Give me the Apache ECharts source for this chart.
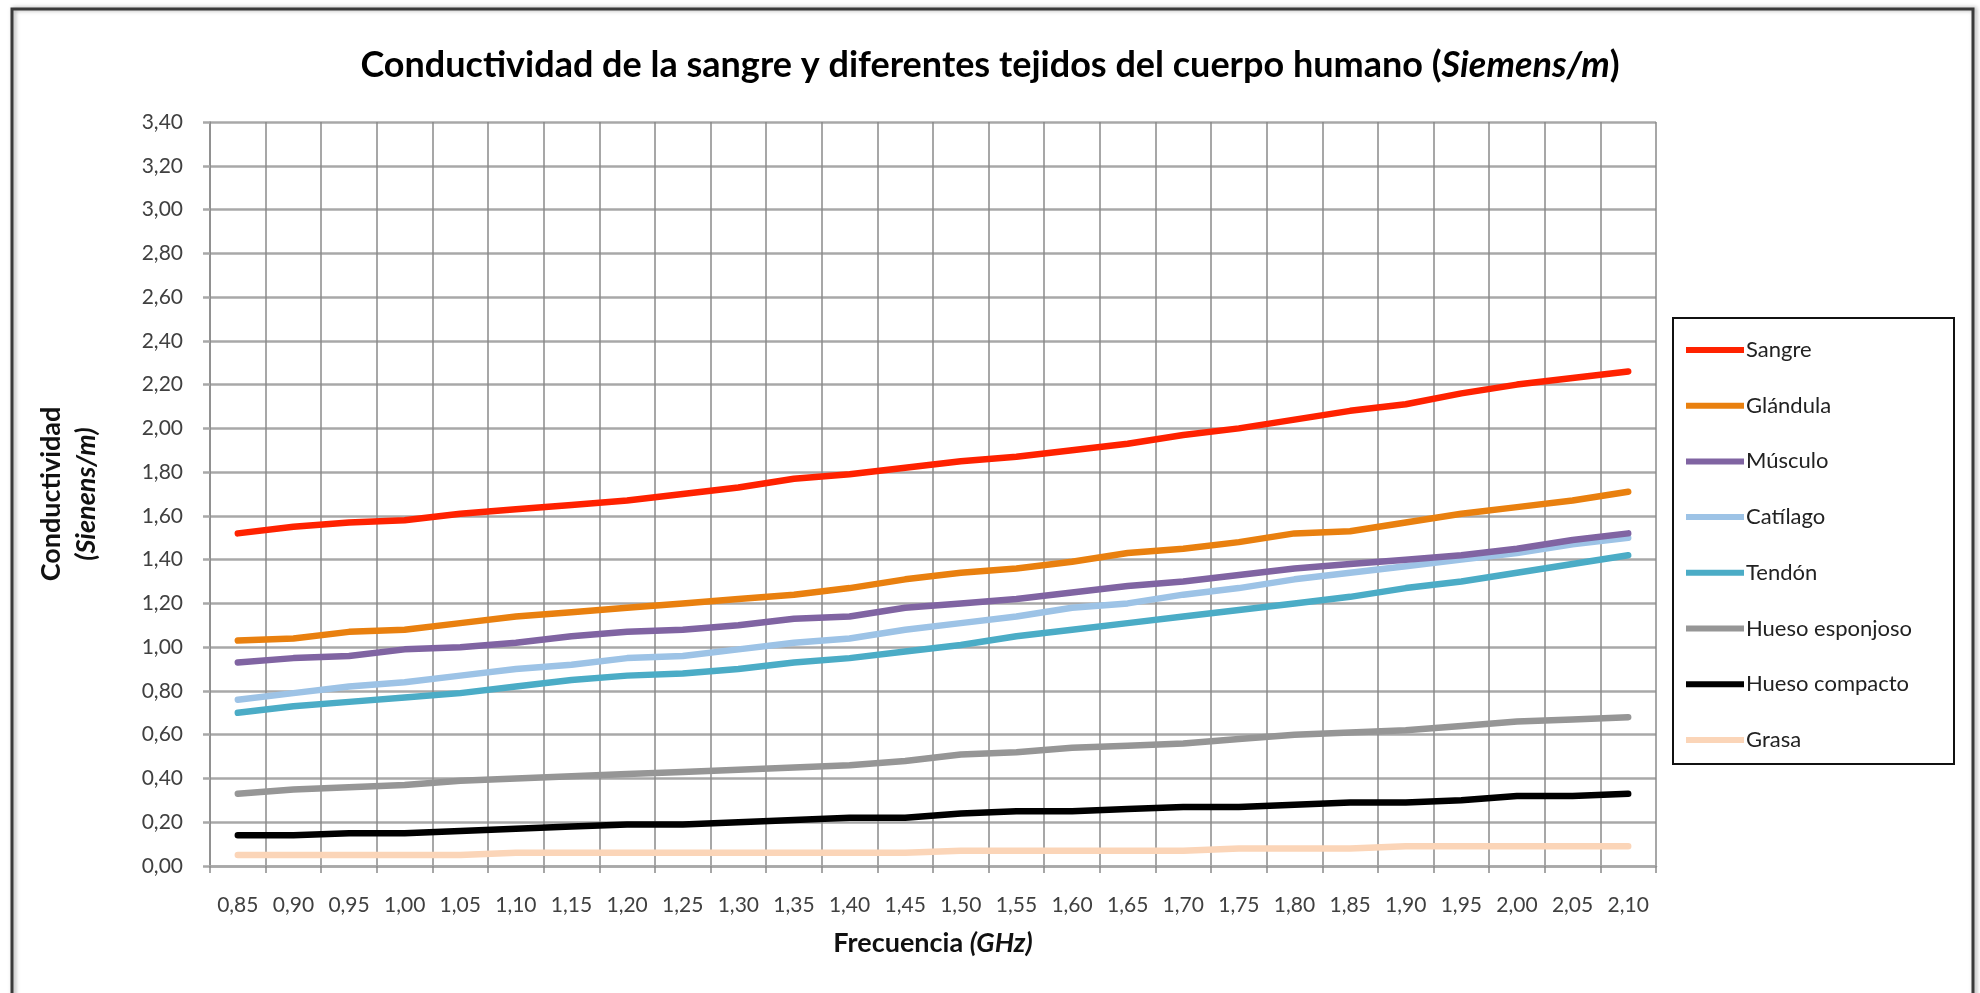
<!DOCTYPE html>
<html>
<head>
<meta charset="utf-8">
<script src="https://cdn.jsdelivr.net/npm/echarts@6/dist/echarts.min.js"></script>
<style>
  html, body { margin: 0; padding: 0; background: #fff; }
  #chart { width: 1980px; height: 993px; }
</style>
</head>
<body>
<div id="chart"></div>
<script>
var frecuencias = ['0,85', '0,90', '0,95', '1,00', '1,05', '1,10', '1,15', '1,20', '1,25', '1,30', '1,35', '1,40', '1,45',
                   '1,50', '1,55', '1,60', '1,65', '1,70', '1,75', '1,80', '1,85', '1,90', '1,95', '2,00', '2,05', '2,10'];

var sangre = [1.52, 1.55, 1.57, 1.58, 1.61, 1.63, 1.65, 1.67, 1.70, 1.73, 1.77, 1.79, 1.82,
              1.85, 1.87, 1.90, 1.93, 1.97, 2.00, 2.04, 2.08, 2.11, 2.16, 2.20, 2.23, 2.26];
var glandula = [1.03, 1.04, 1.07, 1.08, 1.11, 1.14, 1.16, 1.18, 1.20, 1.22, 1.24, 1.27, 1.31,
                1.34, 1.36, 1.39, 1.43, 1.45, 1.48, 1.52, 1.53, 1.57, 1.61, 1.64, 1.67, 1.71];
var musculo = [0.93, 0.95, 0.96, 0.99, 1.00, 1.02, 1.05, 1.07, 1.08, 1.10, 1.13, 1.14, 1.18,
               1.20, 1.22, 1.25, 1.28, 1.30, 1.33, 1.36, 1.38, 1.40, 1.42, 1.45, 1.49, 1.52];
var cartilago = [0.76, 0.79, 0.82, 0.84, 0.87, 0.90, 0.92, 0.95, 0.96, 0.99, 1.02, 1.04, 1.08,
                 1.11, 1.14, 1.18, 1.20, 1.24, 1.27, 1.31, 1.34, 1.37, 1.40, 1.43, 1.47, 1.50];
var tendon = [0.70, 0.73, 0.75, 0.77, 0.79, 0.82, 0.85, 0.87, 0.88, 0.90, 0.93, 0.95, 0.98,
              1.01, 1.05, 1.08, 1.11, 1.14, 1.17, 1.20, 1.23, 1.27, 1.30, 1.34, 1.38, 1.42];
var huesoEsponjoso = [0.33, 0.35, 0.36, 0.37, 0.39, 0.40, 0.41, 0.42, 0.43, 0.44, 0.45, 0.46, 0.48,
                      0.51, 0.52, 0.54, 0.55, 0.56, 0.58, 0.60, 0.61, 0.62, 0.64, 0.66, 0.67, 0.68];
var huesoCompacto = [0.14, 0.14, 0.15, 0.15, 0.16, 0.17, 0.18, 0.19, 0.19, 0.20, 0.21, 0.22, 0.22,
                     0.24, 0.25, 0.25, 0.26, 0.27, 0.27, 0.28, 0.29, 0.29, 0.30, 0.32, 0.32, 0.33];
var grasa = [0.05, 0.05, 0.05, 0.05, 0.05, 0.06, 0.06, 0.06, 0.06, 0.06, 0.06, 0.06, 0.06,
             0.07, 0.07, 0.07, 0.07, 0.07, 0.08, 0.08, 0.08, 0.09, 0.09, 0.09, 0.09, 0.09];

var nombres = ['Sangre', 'Glándula', 'Músculo', 'Catílago', 'Tendón', 'Hueso esponjoso', 'Hueso compacto', 'Grasa'];
var colores = ['#ff2200', '#e9800f', '#8064a2', '#9dc3e6', '#4bacc6', '#969696', '#000000', '#fbd5b8'];
var valores = [sangre, glandula, musculo, cartilago, tendon, huesoEsponjoso, huesoCompacto, grasa];

var fuente = 'Lato';

function serie(i) {
    return {
        name: nombres[i],
        type: 'line',
        data: valores[i],
        showSymbol: false,
        symbol: 'none',
        color: colores[i],
        z: 10 - i,
        lineStyle: { width: 6.5, color: colores[i], cap: 'round', join: 'round' }
    };
}

var series = [];
for (var i = 0; i < nombres.length; i++) {
    series.push(serie(i));
}

var option = {
    backgroundColor: '#ffffff',
    animation: false,
    title: {
        left: 'center',
        top: 42,
        text: '{b|Conductividad de la sangre y diferentes tejidos del cuerpo humano (}{i|Siemens/m}{b|)}',
        textStyle: {
            rich: {
                b: { fontFamily: fuente, fontWeight: 'bold', fontSize: 36, color: '#000' },
                i: { fontFamily: fuente, fontWeight: 'bold', fontStyle: 'italic', fontSize: 36, color: '#000' }
            }
        }
    },
    legend: {
        orient: 'vertical',
        left: 1686,
        top: 339,
        padding: 0,
        itemWidth: 58,
        itemHeight: 6,
        itemGap: 33.7,
        icon: 'rect',
        data: nombres,
        textStyle: { fontFamily: fuente, fontSize: 22, lineHeight: 22, color: '#222', padding: [0, 0, 0, -3] }
    },
    grid: {
        left: 210,
        right: 324,
        top: 122,
        bottom: 127
    },
    xAxis: {
        type: 'category',
        data: frecuencias,
        boundaryGap: true,
        name: '{b|Frecuencia }{i|(GHz)}',
        nameLocation: 'middle',
        nameGap: 64,
        nameTextStyle: {
            rich: {
                b: { fontFamily: fuente, fontWeight: 'bold', fontSize: 27, color: '#111' },
                i: { fontFamily: fuente, fontWeight: 'bold', fontStyle: 'italic', fontSize: 27, color: '#111' }
            }
        },
        axisLine: { show: true, lineStyle: { color: '#a8a8a8', width: 2.5 } },
        axisTick: { show: true, interval: 0, length: 7, lineStyle: { color: '#8a8a8a', width: 1.5 } },
        axisLabel: { interval: 0, margin: 29, fontFamily: fuente, fontSize: 21, color: '#404040' },
        splitLine: { show: true, interval: 0, lineStyle: { color: '#8a8a8a', width: 1.5 } }
    },
    yAxis: {
        type: 'value',
        min: 0,
        max: 3.4,
        interval: 0.2,
        name: '{b|Conductividad}\n{i|(Sienens/m)}',
        nameLocation: 'middle',
        nameRotate: 90,
        nameGap: 106,
        nameTextStyle: {
            rich: {
                b: { fontFamily: fuente, fontWeight: 'bold', fontSize: 27, lineHeight: 35, color: '#111' },
                i: { fontFamily: fuente, fontWeight: 'bold', fontStyle: 'italic', fontSize: 27, lineHeight: 35, color: '#111' }
            }
        },
        axisLine: { show: true, lineStyle: { color: '#8a8a8a', width: 1.5 } },
        axisTick: { show: true, length: 7, lineStyle: { color: '#a8a8a8', width: 2.5 } },
        axisLabel: {
            margin: 27,
            fontFamily: fuente,
            fontSize: 21,
            color: '#404040',
            formatter: function (v) { return v.toFixed(2).replace('.', ','); }
        },
        splitLine: { show: true, lineStyle: { color: '#a8a8a8', width: 2.5 } }
    },
    graphic: [
        {
            type: 'rect',
            silent: true,
            shape: { x: 12, y: 9, width: 1961, height: 1020 },
            style: { fill: null, stroke: '#3a3a3a', lineWidth: 3, shadowColor: 'rgba(0,0,0,0.35)', shadowBlur: 4, shadowOffsetX: 2 }
        },
        {
            type: 'rect',
            silent: true,
            shape: { x: 1673, y: 318, width: 281, height: 446 },
            style: { fill: null, stroke: '#111', lineWidth: 2 }
        }
    ],
    series: series
};

var chart = echarts.init(document.getElementById('chart'));
chart.setOption(option);
</script>
</body>
</html>
